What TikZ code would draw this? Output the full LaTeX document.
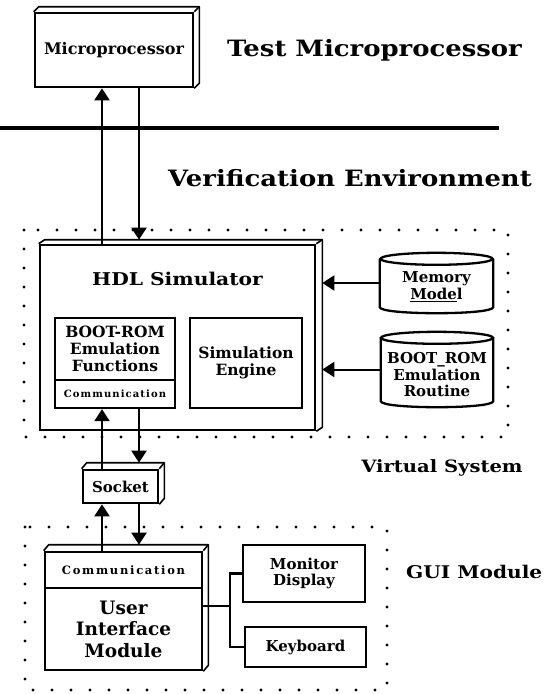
\documentclass[tikz,border=0pt]{standalone}
\usepackage{fontspec}
\setmainfont{DejaVu Serif}
\usetikzlibrary{arrows.meta,calc}
\newcommand{\fs}[2]{\bfseries\fontsize{#1}{#2}\selectfont}
\begin{document}
\begin{tikzpicture}[x=1pt,y=-1pt,
  outer/.style={draw,line width=2.6pt,inner sep=0pt,align=center},
  inner/.style={draw,line width=2.3pt,inner sep=0pt,align=center},
  plain/.style={inner sep=0pt,align=center},
  face/.style={line width=1.6pt,line join=round},
  title/.style={inner sep=0pt,anchor=base,font={\fs{22.5}{26}\addfontfeature{FakeStretch=1.15}}},
  sub/.style={inner sep=0pt,anchor=base,font={\fs{17}{20}\addfontfeature{FakeStretch=1.15}}},
  arr/.style={line width=2pt,-{Triangle[length=12pt,width=15pt]}},
  conn/.style={line width=2.2pt},
  dotbox/.style={line width=3.4pt,line cap=round,dash pattern=on 0pt off 19pt},
  cylline/.style={line width=2.3pt}
]
\useasboundingbox (0,0) rectangle (545,694);

% titles
\node[title] (tmp) at (374.5,56) {Test Microprocessor};
\node[title] (ve) at (350,186) {Verification Environment};
\node[sub] (vs) at (442,472) {Virtual System};
\node[sub,anchor=base west,font={\fs{17.5}{20}\addfontfeature{FakeStretch=1.15}}] (gui) at (406,578) {GUI Module};

% separator line
\coordinate (l1) at (0,128);
\coordinate (l2) at (499,128);
\draw[line width=4pt] (l1) -- (l2);

% dotted groups
\draw[dotbox] (24,230) rectangle (508,437);
\draw[dotbox] (25,527) rectangle (387,690);

% boxes
\node[outer,minimum width=158,minimum height=74,font=\fs{16}{19}] (mp) at (114,50) {Microprocessor};
\node[outer,minimum width=275,minimum height=185] (hdl) at (177.5,337.5) {};
\node[plain,anchor=base,font={\fs{17.6}{20}\addfontfeature{FakeStretch=1.15}}] (hdlt) at (177.5,285) {HDL Simulator};
\node[inner,minimum width=120,minimum height=62,font=\fs{15.5}{17}] (bootfn) at (115,349) {BOOT-ROM\\Emulation\\Functions};
\node[inner,minimum width=120,minimum height=28,font={\fs{10}{12}\addfontfeature{LetterSpace=11}}] (comm) at (115,394) {Communication};
\node[inner,minimum width=112,minimum height=90,font=\fs{15.5}{17}] (sim) at (246,363) {Simulation\\Engine};

\node[plain,minimum width=113,minimum height=60] (mem) at (436.5,283) {};
\node[plain,font=\fs{15}{17}] (memt) at (436.5,287) {Memory\\\underline{Mode}l};
\node[plain,minimum width=112,minimum height=75] (brom) at (437,369.5) {};
\node[plain,font=\fs{15}{16.5}] (bromt) at (437,375) {BOOT\_ROM\\Emulation\\Routine};

\node[outer,minimum width=75,minimum height=33,font=\fs{15}{17}] (sock) at (120.5,486.5) {Socket};

\node[outer,minimum width=157,minimum height=36,font={\fs{11.5}{13}\addfontfeature{LetterSpace=15}}] (uimc) at (123.5,570) {Communication};
\node[outer,minimum width=157,minimum height=82,font=\fs{18.5}{21.5}] (uimm) at (123.5,629) {User\\Interface\\Module};
\node[inner,minimum width=122,minimum height=57,font=\fs{15}{16}] (mon) at (304,573.5) {Monitor\\Display};
\node[inner,minimum width=121,minimum height=40,font=\fs{15}{16}] (kb) at (305.5,647) {Keyboard};

% 3D faces
\foreach \a/\b/\dx/\dy in {mp/mp/5/-5, hdl/hdl/6/-4, sock/sock/5/-6, uimc/uimm/5/-6}{
  \draw[face] (\a.north west) -- ++(\dx,\dy) -- ($(\a.north east)+(\dx,\dy)$) -- ($(\b.south east)+(\dx,\dy)$) -- (\b.south east);
  \draw[face] (\a.north east) -- ++(\dx,\dy);
}

% cylinders
\foreach \c in {mem,brom}{
  \draw[cylline] ($(\c.north west)+(0,6)$) -- ($(\c.south west)+(0,-6)$)
     .. controls ($(\c.south west)+(0,2)$) and ($(\c.south east)+(0,2)$) .. ($(\c.south east)+(0,-6)$)
     -- ($(\c.north east)+(0,6)$);
  \draw[cylline] ($(\c.north)+(0,6)$) ellipse [x radius=56, y radius=6];
}

% arrow columns and tips on the 3D top faces
\coordinate (ax) at (102,0);
\coordinate (bx) at (139,0);
\coordinate (hdlr) at ($(hdl.east)+(6,0)$);
\coordinate (hdltop) at ($(hdl.north)+(0,-4)$);
\coordinate (socktop) at ($(sock.north)+(0,-6)$);
\coordinate (uimtop) at ($(uimc.north)+(0,-6)$);

\draw[arr] (ax |- hdl.north) -- (ax |- mp.south);
\draw[arr] (bx |- mp.south) -- (bx |- hdltop);
\draw[arr] (ax |- sock.north) -- (ax |- comm.south);
\draw[arr] (bx |- comm.south) -- (bx |- socktop);
\draw[arr] (ax |- uimc.north) -- (ax |- sock.south);
\draw[arr] (bx |- sock.south) -- (bx |- uimtop);
\draw[arr] (mem.west) -- (mem.west -| hdlr);
\draw[arr] (brom.west) -- (brom.west -| hdlr);

% GUI connectors
\coordinate (jx) at (230,606);
\coordinate (uimr) at (202,606);
\draw[conn] (uimr) -- (jx);
\draw[conn] (mon.west) -| (jx |- kb.west) -- (kb.west);
\end{tikzpicture}
\end{document}
